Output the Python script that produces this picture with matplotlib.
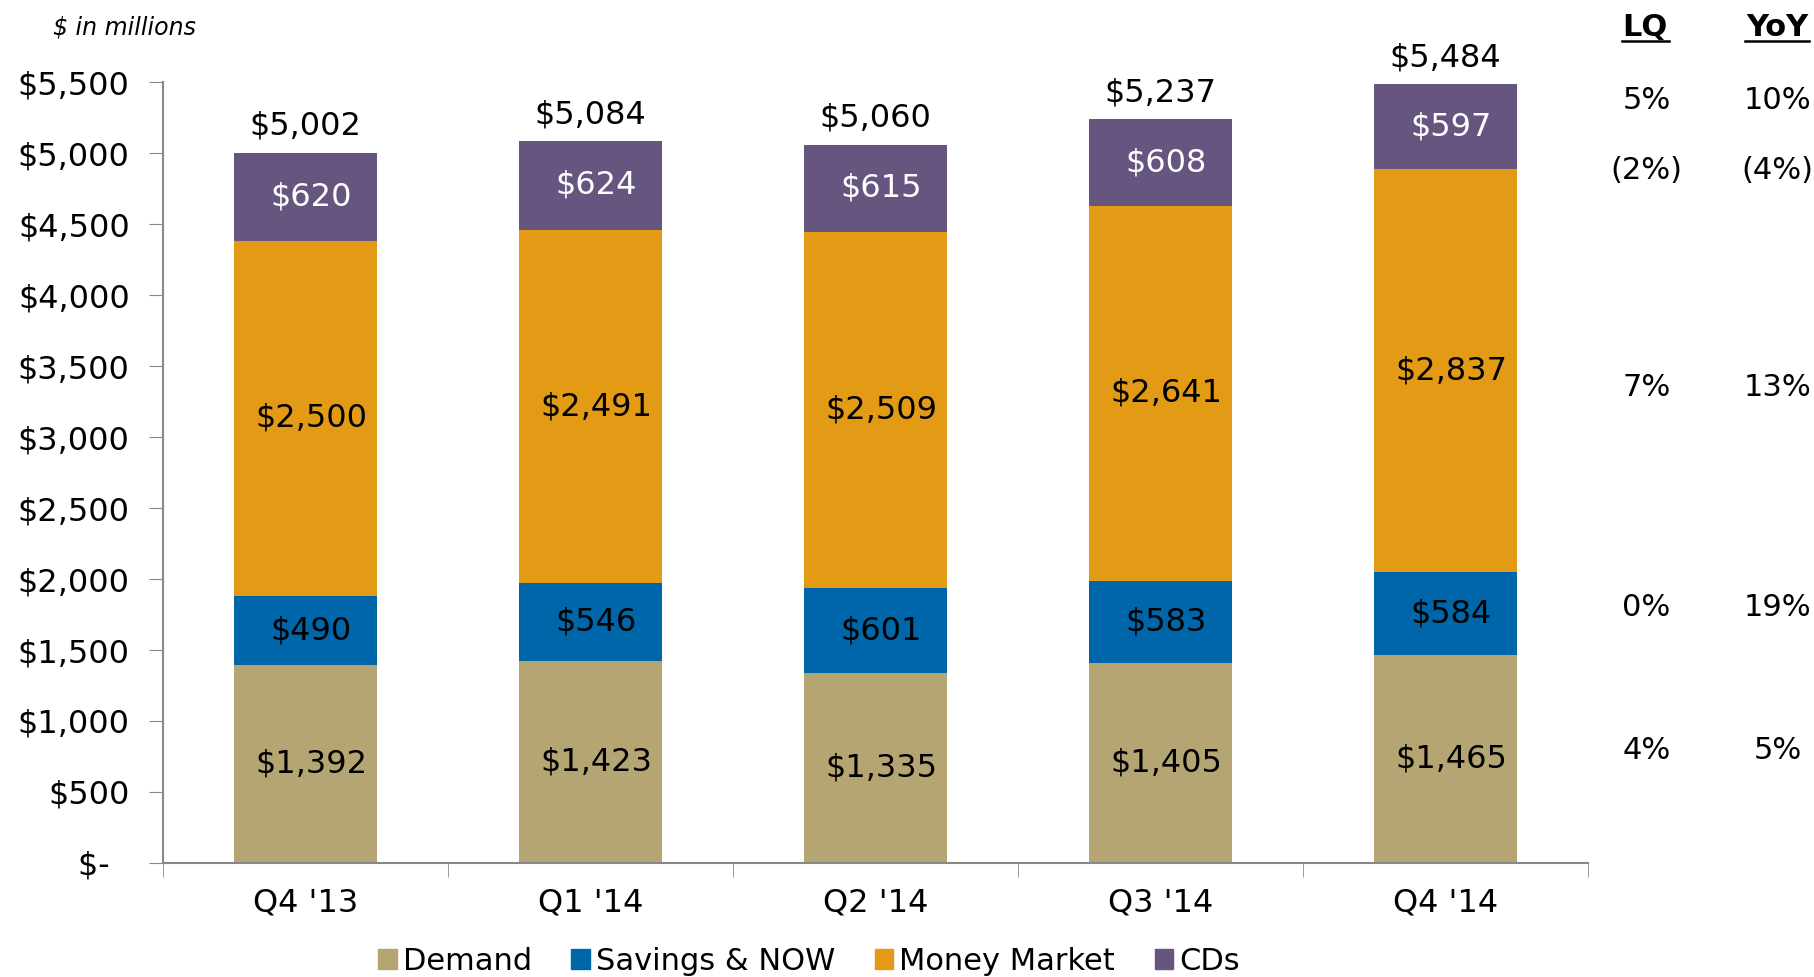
import numpy as np
import matplotlib.pyplot as plt
from matplotlib.lines import Line2D
from matplotlib.patches import Patch

plt.rcParams['font.family'] = 'DejaVu Sans'

quarters = ["Q4 '13", "Q1 '14", "Q2 '14", "Q3 '14", "Q4 '14"]
demand = [1392, 1423, 1335, 1405, 1465]
savings = [490, 546, 601, 583, 584]
money_market = [2500, 2491, 2509, 2641, 2837]
cds = [620, 624, 615, 608, 597]
totals = [5002, 5084, 5060, 5237, 5484]

# change columns, rows from top: total, CDs, money market, savings, demand
lq = ["5%", "(2%)", "7%", "0%", "4%"]
yoy = ["10%", "(4%)", "13%", "19%", "5%"]
row_y = [5370, 4880, 3350, 1800, 790]

series = [
    ("Demand", demand, "#B5A572", "black"),
    ("Savings & NOW", savings, "#0066AA", "black"),
    ("Money Market", money_market, "#E39A14", "black"),
    ("CDs", cds, "#65557F", "white"),
]

FS = 23

fig = plt.figure(figsize=(18.14, 9.77), dpi=100)
ax = fig.add_axes([0.0899, 0.1167, 0.7855, 0.7993])

x = np.arange(len(quarters))
bottom = np.zeros(len(quarters))
for name, vals, color, tcolor in series:
    vals = np.array(vals)
    ax.bar(x, vals, 0.5, bottom=bottom, color=color, label=name)
    for xi, b, v in zip(x, bottom, vals):
        ax.text(xi + 0.02, b + v / 2, f"${v:,}", ha='center', va='center',
                fontsize=FS, color=tcolor)
    bottom += vals

for xi, t, top in zip(x, totals, bottom):
    ax.annotate(f"${t:,}", (xi, top), xytext=(0, 8), textcoords='offset points',
                ha='center', va='bottom', fontsize=FS)

ax.set_xlim(-0.5, len(quarters) - 0.5)
ax.set_ylim(0, 5500)
yt = np.arange(0, 5501, 500)
ax.set_yticks(yt)
ax.set_yticklabels([f"${v:,}" if v else "$-  " for v in yt], fontsize=FS)
ax.set_xticks(x)
ax.set_xticklabels(quarters, fontsize=FS)
ax.set_xticks(np.arange(-0.5, len(quarters)), minor=True)
ax.tick_params(axis='x', which='major', length=0, pad=18)
ax.tick_params(axis='x', which='minor', length=10, color='#888888', direction='out')
ax.tick_params(axis='y', length=10, color='#888888', pad=14)
for s in ['top', 'right']:
    ax.spines[s].set_visible(False)
for s in ['left', 'bottom']:
    ax.spines[s].set_color('#888888')
    ax.spines[s].set_linewidth(1.5)

fig.text(0.029, 0.972, "$ in millions", fontsize=17, style='italic', va='center')

# LQ / YoY columns
fig.text(0.907, 0.972, "LQ", fontsize=22, fontweight='bold', ha='center', va='center')
fig.text(0.980, 0.972, "YoY", fontsize=22, fontweight='bold', ha='center', va='center')
fig.add_artist(Line2D([0.894, 0.920], [0.958, 0.958], color='black', lw=1.8))
fig.add_artist(Line2D([0.962, 0.997], [0.958, 0.958], color='black', lw=1.8))
trans = ax.get_yaxis_transform()
for a, b, yv in zip(lq, yoy, row_y):
    ax.text(1.041, yv, a, transform=trans, ha='center', va='center', fontsize=22, clip_on=False)
    ax.text(1.133, yv, b, transform=trans, ha='center', va='center', fontsize=22, clip_on=False)

handles = [Patch(color=c) for _, _, c, _ in series]
fig.legend(handles, [s[0] for s in series], loc='center', bbox_to_anchor=(0.446, 0.016),
           ncol=4, frameon=False, fontsize=22, handlelength=0.6, handleheight=0.6,
           handletextpad=0.2, columnspacing=1.3)

fig.savefig("out.png", dpi=100)
